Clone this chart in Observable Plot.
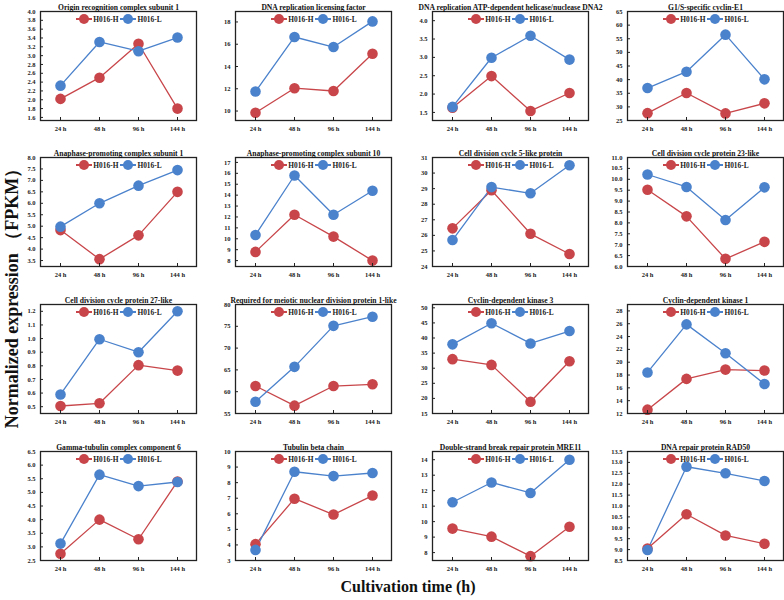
<!DOCTYPE html>
<html>
<head>
<meta charset="utf-8">
<script src="https://cdn.jsdelivr.net/npm/d3@7"></script>
<script src="https://cdn.jsdelivr.net/npm/@observablehq/plot@0.6"></script>
<style>
  body { margin: 0; background: #fff; }
  #wrap { position: relative; width: 784px; height: 600px; overflow: hidden; font-family: "Liberation Serif", "Times New Roman", serif; }
  .panel { position: absolute; }
  .legend { position: absolute; display: flex; justify-content: center; align-items: center; font: bold 7.4px "Liberation Serif", serif; color: #222; white-space: nowrap; }
  .sw { position: relative; display: inline-block; width: 16px; height: 1.3px; background: var(--c); margin: 0 1.5px; }
  .sw::after { content: ""; position: absolute; left: 3px; top: -4.35px; width: 10px; height: 10px; border-radius: 50%; background: var(--c); }
  .ylab { position: absolute; left: 12px; top: 294px; transform: translate(-50%, -50%) rotate(-90deg); font: bold 18px "Liberation Serif", serif; white-space: nowrap; color: #111; }
  .xlab { position: absolute; left: 408px; top: 587px; transform: translate(-50%, -50%); font: bold 16px "Liberation Serif", serif; white-space: nowrap; color: #111; }
</style>
</head>
<body>
<div id="wrap">
  <div class="ylab">Normalized expression （FPKM）</div>
  <div class="xlab">Cultivation time (h)</div>
</div>
<script>
const times = ["24 h", "48 h", "96 h", "144 h"];
const series = ["H016-H", "H016-L"];
const colors = ["#c8464a", "#4b82cc"];

const titles = [
  "Origin recognition complex subunit 1",
  "DNA replication licensing factor",
  "DNA replication ATP-dependent helicase/nuclease DNA2",
  "G1/S-specific cyclin-E1",
  "Anaphase-promoting complex subunit 1",
  "Anaphase-promoting complex subunit 10",
  "Cell division cycle 5-like protein",
  "Cell division cycle protein 23-like",
  "Cell division cycle protein 27-like",
  "Required for meiotic nuclear division protein 1-like",
  "Cyclin-dependent kinase 3",
  "Cyclin-dependent kinase 1",
  "Gamma-tubulin complex component 6",
  "Tubulin beta chain",
  "Double-strand break repair protein MRE11",
  "DNA repair protein RAD50"
];

const valuesH = [
  [2.02, 2.50, 3.27, 1.80],
  [9.85, 12.05, 11.80, 15.15],
  [1.63, 2.49, 1.54, 2.03],
  [27.7, 35.1, 27.6, 31.3],
  [4.83, 3.56, 4.60, 6.50],
  [8.8, 12.2, 10.2, 8.0],
  [26.45, 28.9, 26.1, 24.8],
  [9.52, 8.30, 6.35, 7.13],
  [0.505, 0.525, 0.805, 0.765],
  [61.3, 56.8, 61.3, 61.7],
  [33.0, 31.1, 18.9, 32.3],
  [12.6, 17.4, 18.85, 18.7],
  [2.75, 4.00, 3.28, 5.40],
  [4.05, 6.97, 5.95, 7.17],
  [9.55, 9.03, 7.77, 9.67],
  [9.05, 10.62, 9.65, 9.27]
];

const valuesL = [
  [2.32, 3.31, 3.10, 3.41],
  [11.75, 16.65, 15.75, 18.05],
  [1.65, 2.99, 3.59, 2.94],
  [36.9, 42.9, 56.5, 40.1],
  [4.98, 6.00, 6.77, 7.45],
  [10.35, 15.8, 12.2, 14.4],
  [25.7, 29.1, 28.7, 30.5],
  [10.22, 9.65, 8.13, 9.63],
  [0.59, 0.995, 0.90, 1.20],
  [57.7, 65.7, 75.1, 77.2],
  [37.9, 44.9, 38.2, 42.3],
  [18.4, 25.9, 21.4, 16.6],
  [3.12, 5.65, 5.23, 5.38],
  [3.68, 8.70, 8.42, 8.62],
  [11.25, 12.53, 11.85, 14.0],
  [8.98, 12.80, 12.50, 12.15]
];

const yDomains = [
  [1.53, 4.0], [9.15, 18.94], [1.28, 4.25], [25, 65],
  [3.24, 8.0], [7.46, 17.45], [24, 31], [6, 11],
  [0.45, 1.25], [55, 80], [15, 51.1], [12, 29],
  [2.5, 6.5], [3, 10], [7.49, 14.53], [8.5, 13.5]
];

const yTickSteps = [0.2, 2, 0.5, 5, 0.5, 1, 1, 0.5, 0.1, 5, 5, 2, 0.5, 1, 1, 0.5];

// layout
const frameLefts = [40, 235, 432, 627];
const frameTops = [11, 157, 304, 451];
const mL = 40, mR = 2, mT = 14, mB = 20;
const frameW = 156, frameH = 109;

const wrap = document.getElementById("wrap");

titles.forEach((title, i) => {
  const row = Math.floor(i / 4), col = i % 4;
  const data = [];
  series.forEach((s, k) => {
    const vals = k === 0 ? valuesH[i] : valuesL[i];
    times.forEach((t, j) => data.push({series: s, time: t, value: vals[j]}));
  });
  const [lo, hi] = yDomains[i];
  const step = yTickSteps[i];
  const yTicks = d3.range(Math.ceil(lo / step - 1e-9), Math.floor(hi / step + 1e-9) + 1).map(n => +(n * step).toFixed(4));
  const fmt = step < 1 ? d3.format(".1f") : d3.format("d");

  const chart = Plot.plot({
    width: mL + frameW + mR,
    height: mT + frameH + mB,
    marginLeft: mL, marginRight: mR, marginTop: mT, marginBottom: mB,
    style: {fontFamily: "'Liberation Serif', serif", fontWeight: "bold", fontSize: "6.5px", background: "transparent", color: "#222", overflow: "visible", maxWidth: "none"},
    x: {type: "point", domain: times, padding: 0.5, axis: null},
    y: {domain: [lo, hi], axis: null},
    color: {domain: series, range: colors},
    marks: [
      Plot.line(data, {x: "time", y: "value", z: "series", stroke: "series", strokeWidth: 1.3}),
      Plot.dot(data, {x: "time", y: "value", fill: "series", r: 5.3}),
      Plot.axisX({anchor: "bottom", tickSize: 0, tickPadding: 6, fontWeight: "bold", label: null}),
      Plot.axisY(yTicks, {anchor: "left", tickSize: 0, tickPadding: 5, tickFormat: fmt, fontWeight: "bold", label: null}),
      Plot.tickY(yTicks, {y: d => d, insetRight: frameW - 3, stroke: "#222", strokeWidth: 1}),
      Plot.tickX(times, {x: d => d, insetTop: frameH - 3, stroke: "#222", strokeWidth: 1}),
      Plot.frame({stroke: "#222", strokeWidth: 1.3}),
      Plot.text([title], {text: d => d, frameAnchor: "top", dy: -7, fontSize: 7.6, fontWeight: "bold", fill: "#111"})
    ]
  });

  const div = document.createElement("div");
  div.className = "panel";
  div.style.left = (frameLefts[col] - mL) + "px";
  div.style.top = (frameTops[row] - mT) + "px";
  div.appendChild(chart);
  wrap.appendChild(div);

  const leg = document.createElement("div");
  leg.className = "legend";
  leg.style.left = frameLefts[col] + "px";
  leg.style.width = frameW + "px";
  leg.style.top = (frameTops[row] + 4) + "px";
  leg.style.height = "8px";
  series.forEach((s, k) => {
    const sw = document.createElement("span");
    sw.className = "sw";
    sw.style.setProperty("--c", colors[k]);
    const lab = document.createElement("span");
    lab.textContent = s;
    leg.appendChild(sw);
    leg.appendChild(lab);
  });
  wrap.appendChild(leg);
});
</script>
</body>
</html>
